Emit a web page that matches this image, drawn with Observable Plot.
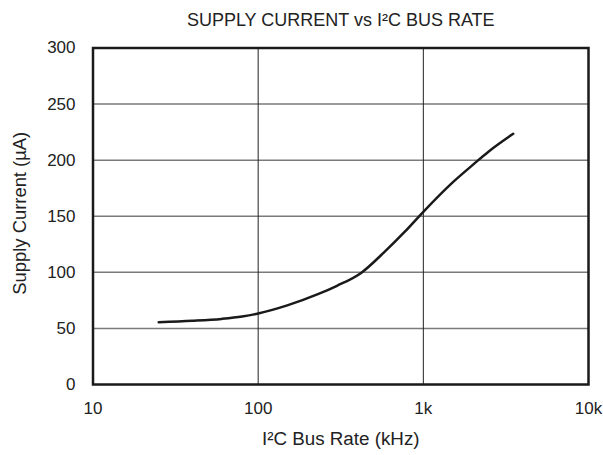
<!DOCTYPE html>
<html>
<head>
<meta charset="utf-8">
<script src="https://cdn.jsdelivr.net/npm/d3@7"></script>
<script src="https://cdn.jsdelivr.net/npm/@observablehq/plot@0.6"></script>
<style>
  html, body { margin: 0; padding: 0; background: #fff; }
  svg { display: block; }
</style>
</head>
<body>
<div id="chart"></div>
<script>
const title = "SUPPLY CURRENT vs I²C BUS RATE";
const xLabel = "I²C Bus Rate (kHz)";
const yLabel = "Supply Current (µA)";

// Bus rate (kHz) and supply current (µA)
const rates    = [25,   40,   60,   80,   100,  150,  230,  300, 420,  580, 770, 1000, 1500, 2000, 2500, 3500];
const currents = [55.5, 56.8, 58.5, 60.6, 63.3, 70.5, 80.5, 88,  99.5, 118, 136, 154,  180,  196,  208,  223.5];

const xTicks = [10, 100, 1000, 10000];
const xTickLabels = ["10", "100", "1k", "10k"];
const yTicks = [0, 50, 100, 150, 200, 250, 300];
const xGrid = [100, 1000];
const yGrid = [50, 100, 150, 200, 250];

const data = rates.map((r, i) => ({rate: r, current: currents[i]}));

const chart = Plot.plot({
  width: 603,
  height: 455,
  marginLeft: 92.5,
  marginRight: 15,
  marginTop: 47.5,
  marginBottom: 71,
  style: {fontFamily: "'Liberation Sans', Arial, Helvetica, sans-serif", background: "#fff", color: "#222"},
  x: {type: "log", domain: [10, 10000]},
  y: {domain: [0, 300]},
  marks: [
    Plot.ruleY(yGrid, {stroke: "#7a7a7a", strokeWidth: 1.5}),
    Plot.ruleX(xGrid, {stroke: "#222", strokeWidth: 1}),
    Plot.axisX({ticks: xTicks, tickFormat: (d) => xTickLabels[xTicks.indexOf(d)], tickSize: 0, tickPadding: 17, fontSize: 17, label: null}),
    Plot.axisY({ticks: yTicks, tickSize: 0, tickPadding: 17.5, fontSize: 17, label: null}),
    Plot.line(data, {x: "rate", y: "current", stroke: "#1a1a1a", strokeWidth: 2.5, curve: "monotone-x"}),
    Plot.frame({stroke: "#1a1a1a", strokeWidth: 2.5}),
    Plot.text([title], {frameAnchor: "top", lineAnchor: "middle", dy: -27.5, fontSize: 18, fill: "#222"}),
    Plot.text([xLabel], {frameAnchor: "bottom", lineAnchor: "middle", dy: 54, fontSize: 18.8, fill: "#222"}),
    Plot.text([yLabel], {frameAnchor: "left", textAnchor: "middle", lineAnchor: "middle", dx: -72.5, dy: -3, rotate: -90, fontSize: 18.4, fill: "#222"})
  ]
});
document.getElementById("chart").appendChild(chart);
</script>
</body>
</html>
